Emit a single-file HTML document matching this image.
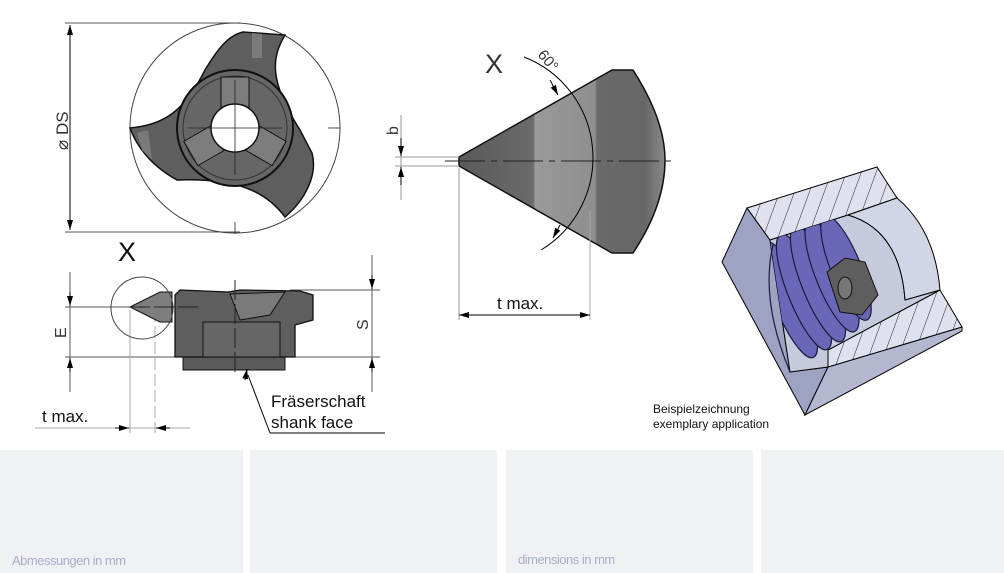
<!DOCTYPE html>
<html><head><style>
body{margin:0;width:1004px;height:573px;background:#fff;overflow:hidden;font-family:"Liberation Sans","DejaVu Sans",sans-serif;position:relative}
.p{position:absolute;top:450px;height:123px;background:#f0f1f5}
.lbl{position:absolute;font-size:13px;color:#a9aec9;letter-spacing:-0.5px}
</style></head><body>
<svg width="1004" height="450" style="position:absolute;left:0;top:0" font-family="Liberation Sans, DejaVu Sans, sans-serif">
<defs>
<marker id="a" markerWidth="10" markerHeight="6" refX="10" refY="3" orient="auto" markerUnits="userSpaceOnUse"><path d="M0,0L10,3L0,6z" fill="#000"/></marker>
<linearGradient id="cone" x1="0" x2="1" y1="0" y2="0">
<stop offset="0" stop-color="#5a5a5a"/><stop offset="0.36" stop-color="#6a6a6a"/><stop offset="0.37" stop-color="#9a9a9a"/><stop offset="0.66" stop-color="#8e8e8e"/><stop offset="0.67" stop-color="#6a6a6a"/><stop offset="0.9" stop-color="#666"/><stop offset="1" stop-color="#8a8a8a"/></linearGradient>
<pattern id="h" width="14" height="14" patternUnits="userSpaceOnUse" patternTransform="rotate(20)"><rect width="14" height="14" fill="#dfe1ee"/><line x1="0" y1="0" x2="0" y2="14" stroke="#222" stroke-width="1"/></pattern>
<clipPath id="cv"><path d="M770,240 L848,215 Q900,230 905,300 L940,290 L828,350 L790,372Z"/></clipPath>
</defs>
<!-- top view -->
<g stroke="#555" stroke-width="1" fill="none">
<line x1="65" y1="23" x2="240" y2="23"/><line x1="65" y1="232" x2="240" y2="232"/>
</g>
<line x1="70" y1="40" x2="70" y2="25" stroke="#000" marker-end="url(#a)"/>
<line x1="70" y1="215" x2="70" y2="230" stroke="#000" marker-end="url(#a)"/>
<line x1="70" y1="40" x2="70" y2="215" stroke="#000"/>
<text transform="translate(68,150) rotate(-90)" font-size="17" fill="#333">⌀ DS</text>
<circle cx="235" cy="128" r="105" fill="none" stroke="#444"/>
<path d="M243,32 L285,35 C272,57 268,80 300,130 L312,153 C318,175 305,200 285,217 C265,190 235,178 177,180 C150,165 136,145 130,128 C165,125 185,110 205,70 C220,45 230,35 243,32Z" fill="#5e5e5e" stroke="#111" stroke-width="1.5"/>
<path d="M252,33 L262,34 L262,58 L252,58Z" fill="#7a7a7a"/>
<path d="M137,133 L148,130 L152,160 L142,150Z" fill="#7a7a7a"/>
<circle cx="235" cy="128" r="58" fill="#666" stroke="#111" stroke-width="2"/>
<circle cx="235" cy="128" r="52" fill="none" stroke="#333"/>
<rect x="221" y="77" width="28" height="30" fill="#7d7d7d" stroke="#111"/>
<g transform="rotate(120 235 128)"><rect x="221" y="77" width="28" height="30" fill="#7d7d7d" stroke="#111"/></g>
<g transform="rotate(240 235 128)"><rect x="221" y="77" width="28" height="30" fill="#7d7d7d" stroke="#111"/></g>
<circle cx="235" cy="128" r="24" fill="#fff" stroke="#111" stroke-width="1.5"/>
<g stroke="#222" stroke-width="0.8"><line x1="188" y1="128" x2="282" y2="128"/><line x1="235" y1="80" x2="235" y2="175"/><line x1="328" y1="128" x2="340" y2="128"/><line x1="235" y1="222" x2="235" y2="234"/></g>
<text x="118" y="261" font-size="27" fill="#111">X</text>
<!-- side view -->
<g stroke="#555" stroke-width="1"><line x1="65" y1="307" x2="200" y2="307"/><line x1="65" y1="357" x2="380" y2="357"/><line x1="290" y1="290" x2="380" y2="290"/>
<line x1="70" y1="272" x2="70" y2="392"/><line x1="372" y1="255" x2="372" y2="392"/>
<line x1="130" y1="310" x2="130" y2="433" stroke="#aaa"/><line x1="155" y1="310" x2="155" y2="433" stroke="#aaa" stroke-dasharray="12,4"/>
<line x1="35" y1="428" x2="190" y2="428" stroke="#aaa"/></g>
<line x1="70" y1="292" x2="70" y2="306" stroke="#000" marker-end="url(#a)"/>
<line x1="70" y1="372" x2="70" y2="358" stroke="#000" marker-end="url(#a)"/>
<line x1="372" y1="275" x2="372" y2="289" stroke="#000" marker-end="url(#a)"/>
<line x1="372" y1="372" x2="372" y2="358" stroke="#000" marker-end="url(#a)"/>
<line x1="115" y1="428" x2="129" y2="428" stroke="#000" marker-end="url(#a)"/>
<line x1="170" y1="428" x2="156" y2="428" stroke="#000" marker-end="url(#a)"/>
<text transform="translate(66,338) rotate(-90)" font-size="16" fill="#333">E</text>
<text transform="translate(368,330) rotate(-90)" font-size="16" fill="#333">S</text>
<path d="M183,357 L183,370 L285,370 L285,357Z" fill="#5a5a5a" stroke="#111"/>
<path d="M175,295 L180,290 L228,292 L240,290 L300,291 L313,295 L313,320 L295,325 L295,357 L175,357Z" fill="#5e5e5e" stroke="#111" stroke-width="1.3"/>
<path d="M230,294 L285,292 L270,315 L240,320Z" fill="#7a7a7a" stroke="#111"/>
<path d="M203,322 L280,322 L280,357 L203,357Z" fill="#666" stroke="#111"/>
<path d="M130,307 L160,292 L172,292 L172,322 L160,322Z" fill="#7d7d7d" stroke="#111"/>
<circle cx="142" cy="308" r="31" fill="none" stroke="#444"/>
<line x1="130" y1="307" x2="200" y2="307" stroke="#222" stroke-dasharray="20,4"/>
<line x1="235" y1="280" x2="235" y2="375" stroke="#222" stroke-dasharray="20,4"/>
<line x1="270" y1="433" x2="248" y2="375" stroke="#000"/><line x1="245" y1="380" x2="247" y2="369" stroke="#000" marker-end="url(#a)"/>
<line x1="270" y1="433" x2="385" y2="433" stroke="#000"/>
<text x="271" y="407" font-size="17" fill="#111">Fräserschaft</text>
<text x="271" y="428" font-size="17" fill="#111">shank face</text>
<text x="42" y="422" font-size="17" fill="#111">t max.</text>
<!-- detail X -->
<path d="M459,157 L612,70 L633,70 Q665,120 665,160 Q665,205 633,253 L612,253 L459,166Z" fill="url(#cone)" stroke="#111" stroke-width="1.5"/>
<line x1="445" y1="161" x2="673" y2="161" stroke="#222" stroke-dasharray="40,6,6,6"/>
<g stroke="#999"><line x1="459" y1="168" x2="459" y2="320"/><line x1="590" y1="210" x2="590" y2="320" stroke="#aaa"/>
<line x1="395" y1="157" x2="459" y2="157"/><line x1="395" y1="166" x2="459" y2="166"/><line x1="401" y1="115" x2="401" y2="200"/></g>
<line x1="401" y1="138" x2="401" y2="156" stroke="#000" marker-end="url(#a)"/>
<line x1="401" y1="185" x2="401" y2="167" stroke="#000" marker-end="url(#a)"/>
<text transform="translate(398,135) rotate(-90)" font-size="16" fill="#333">b</text>
<path d="M524,57 A108,108 0 0 1 541,250" fill="none" stroke="#000"/>
<line x1="550" y1="80" x2="558" y2="95" stroke="#000" marker-end="url(#a)"/>
<line x1="560" y1="225" x2="553" y2="238" stroke="#000" marker-end="url(#a)"/>
<text transform="translate(537,55) rotate(50)" font-size="15" fill="#333">60°</text>
<text x="485" y="73" font-size="27" fill="#333">X</text>
<line x1="475" y1="315" x2="459" y2="315" stroke="#000" marker-end="url(#a)"/>
<line x1="575" y1="315" x2="590" y2="315" stroke="#000" marker-end="url(#a)"/>
<line x1="475" y1="315" x2="575" y2="315" stroke="#000"/>
<text x="497" y="309" font-size="17" fill="#111">t max.</text>
<!-- 3D -->
<path d="M747,208 L722,262 L805,415 L828,367 L790,372 L770,240Z" fill="#9ea2c3" stroke="#000"/>
<path d="M828,367 L962,327 L962,331 L805,415Z" fill="#b4b7cf" stroke="#000"/>
<path d="M747,208 L877,167 L897,198 L848,215 L770,240Z" fill="url(#h)" stroke="#000"/>
<path d="M828,350 L940,290 L962,327 L828,367Z" fill="url(#h)" stroke="#000"/>
<path d="M770,240 L848,215 Q900,230 905,300 L940,290 L828,350 L828,367 L790,372Z" fill="#c7cadd" stroke="#000"/>
<path d="M897,198 Q935,230 940,290 L905,300 Q900,230 848,215Z" fill="#d2d5e6" stroke="#000"/>
<g clip-path="url(#cv)" fill="#6b67b8" stroke="#1b1b3c" stroke-width="1.2">
<ellipse cx="790" cy="300" rx="16" ry="62" transform="rotate(-22 790 300)"/>
<ellipse cx="804" cy="292" rx="16" ry="62" transform="rotate(-22 804 292)"/>
<ellipse cx="818" cy="284" rx="16" ry="62" transform="rotate(-22 818 284)"/>
<ellipse cx="832" cy="276" rx="16" ry="60" transform="rotate(-22 832 276)"/>
<ellipse cx="846" cy="268" rx="15" ry="56" transform="rotate(-22 846 268)"/>
</g>
<path d="M773,245 Q760,300 790,372" fill="none" stroke="#1b1b3c" stroke-width="1.2"/>
<path d="M827,272 L845,258 L865,262 L878,295 L862,315 L840,312Z" fill="#5e5e5e" stroke="#111"/>
<ellipse cx="845" cy="288" rx="7" ry="11" fill="#777" stroke="#111"/>
<text x="653" y="413" font-size="12" fill="#111">Beispielzeichnung</text>
<text x="653" y="428" font-size="12" fill="#111">exemplary application</text>
</svg>
<div class="p" style="left:0;width:243px"></div>
<div class="p" style="left:250px;width:247px"></div>
<div class="p" style="left:506px;width:247px"></div>
<div class="p" style="left:761px;width:243px"></div>
<div class="lbl" style="left:12px;top:553px">Abmessungen in mm</div>
<div class="lbl" style="left:518px;top:552px">dimensions in mm</div>
</body></html>
